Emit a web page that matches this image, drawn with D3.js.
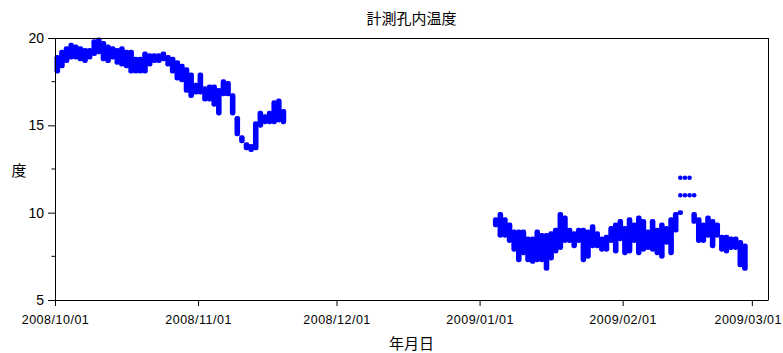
<!DOCTYPE html>
<html>
<head>
<meta charset="utf-8">
<script src="https://cdn.jsdelivr.net/npm/d3@7"></script>
<style>
  body { margin: 0; background: #fff; }
  text { fill: #000; }
</style>
</head>
<body>
<svg id="chart" width="783" height="353"></svg>
<script>
// Borehole temperature: daily low / high readings (°C)
const seriesAStart = "2008-10-01";
const seriesALow = [
  18.1, 18.4, 18.7, 18.9, 18.9, 18.8, 18.7, 18.9, 19.1, 19.2,
  18.8, 18.7, 18.9, 18.6, 18.5, 18.4, 18.1, 18.1, 18.1, 18.1,
  18.5, 18.7, 18.7, 18.8, 18.5, 18.1, 17.7, 17.6, 17.0, 16.7,
  16.9, 16.9, 16.5, 16.5, 16.2, 15.7, 16.8, 16.8, 15.7, 14.5,
  14.1, 13.7, 13.6, 13.7, 15.0, 15.2, 15.2, 15.2, 15.3, 15.2
];
const seriesAHigh = [
  18.9, 19.2, 19.4, 19.6, 19.5, 19.4, 19.3, 19.3, 19.8, 19.9,
  19.7, 19.5, 19.4, 19.3, 19.4, 19.2, 19.2, 18.8, 18.8, 19.1,
  19.0, 19.0, 19.0, 19.1, 18.9, 18.8, 18.6, 18.4, 18.2, 17.9,
  17.3, 17.9, 17.1, 17.2, 17.2, 17.0, 17.5, 17.4, 16.7, 15.4,
  14.3, 13.9, 13.8, 15.1, 15.7, 15.5, 15.7, 16.3, 16.4, 15.8
];

const seriesBStart = "2009-01-04";
const seriesBLow = [
  9.3, 8.7, 8.7, 8.4, 7.9, 7.3, 7.7, 7.3, 7.2, 7.3,
  7.3, 6.8, 7.4, 7.8, 8.0, 8.4, 8.4, 8.1, 8.4, 7.3,
  7.5, 8.1, 8.1, 7.9, 7.9, 8.4, 7.8, 8.5, 7.7, 7.8,
  8.4, 7.7, 7.9, 8.0, 7.9, 7.7, 7.5, 8.3, 7.7, 9.0,
  10.0, null, null, 9.5, 8.4, 8.4, 8.7, 8.1, 8.7, 7.9,
  7.8, 8.0, 8.0, 7.0, 6.8
];
const seriesBHigh = [
  9.6, 9.9, 9.6, 9.3, 8.9, 8.9, 8.9, 8.5, 8.5, 8.9,
  8.7, 8.7, 8.8, 9.0, 9.9, 9.7, 9.0, 8.8, 9.0, 9.0,
  8.9, 9.2, 8.8, 8.5, 8.6, 9.1, 9.3, 9.5, 9.1, 9.6,
  9.3, 9.7, 9.5, 8.9, 9.5, 9.0, 9.3, 9.1, 9.6, 9.9,
  10.0, null, null, 9.9, 9.6, 9.3, 9.7, 9.5, 9.3, 8.6,
  8.6, 8.5, 8.5, 8.3, 8.1
];

// Isolated readings in mid-February
const spikeDates  = ["2009-02-13", "2009-02-14", "2009-02-15",
                     "2009-02-13", "2009-02-14", "2009-02-15", "2009-02-16"];
const spikeValues = [12.0, 12.0, 12.0, 11.0, 11.0, 11.0, 11.0];

const xTickDates  = ["2008-10-01", "2008-11-01", "2008-12-01", "2009-01-01", "2009-02-01", "2009-03-01"];
const xTickLabels = ["2008/10/01", "2008/11/01", "2008/12/01", "2009/01/01", "2009/02/01", "2009/03/01"];
const yTicks = [5, 10, 15, 20];
const yMinorTicks = [7.5, 12.5, 17.5];

const W = 783, H = 353;
const margin = { top: 38, right: 15, bottom: 53, left: 55 };
const parse = d3.timeParse("%Y-%m-%d");
const blue = "#0000ff";

const svg = d3.select("#chart");

const x = d3.scaleTime()
  .domain([parse("2008-10-01"), d3.timeHour.offset(parse("2009-03-04"), 12)])
  .range([margin.left, W - margin.right]);
const y = d3.scaleLinear()
  .domain([5, 20])
  .range([H - margin.bottom, margin.top]);

// Build daily rows (each reading day centred at noon)
function dailyRows(start, lows, highs) {
  const s = parse(start);
  return lows.map((lo, i) => ({
    date: d3.timeHour.offset(d3.timeDay.offset(s, i), 12),
    low: lo,
    high: highs[i]
  })).filter(d => d.low != null && d.high != null);
}
const rows = dailyRows(seriesAStart, seriesALow, seriesAHigh)
  .concat(dailyRows(seriesBStart, seriesBLow, seriesBHigh));

const r = 2.3;     // marker radius
const hw = 2.8;    // half width of a daily range bar
const marks = svg.append("g");
marks.selectAll("rect.day")
  .data(rows)
  .join("rect")
  .attr("class", "day")
  .attr("x", d => x(d.date) - hw)
  .attr("y", d => y(d.high) - r)
  .attr("width", 2 * hw)
  .attr("height", d => y(d.low) - y(d.high) + 2 * r)
  .attr("rx", r)
  .attr("fill", blue);

marks.selectAll("circle.spike")
  .data(spikeDates.map((s, i) => ({ date: d3.timeHour.offset(parse(s), 12), v: spikeValues[i] })))
  .join("circle")
  .attr("class", "spike")
  .attr("cx", d => x(d.date))
  .attr("cy", d => y(d.v))
  .attr("r", r)
  .attr("fill", blue);

// Frame
const frame = svg.append("g").attr("stroke", "#000").attr("stroke-width", 1).attr("shape-rendering", "crispEdges");
frame.append("line").attr("x1", margin.left).attr("x2", W - margin.right).attr("y1", margin.top + 0.5).attr("y2", margin.top + 0.5);
frame.append("line").attr("x1", W - margin.right + 0.5).attr("x2", W - margin.right + 0.5).attr("y1", margin.top).attr("y2", H - margin.bottom);

// X axis
const xAxis = d3.axisBottom(x)
  .tickValues(xTickDates.map(parse))
  .tickFormat((d, i) => xTickLabels[i])
  .tickSize(6)
  .tickSizeOuter(0)
  .tickPadding(9);
const gx = svg.append("g")
  .attr("transform", `translate(0,${H - margin.bottom})`)
  .call(xAxis);
gx.selectAll("text")
  .attr("font-family", "Liberation Sans, Arial, sans-serif")
  .attr("font-size", 12.5)
  .attr("letter-spacing", "0.5px");
// keep the last date label inside the page
gx.selectAll(".tick text").each(function () {
  const tx = d3.select(this.parentNode).attr("transform");
  const px = +/translate\(([-\d.]+)/.exec(tx)[1];
  const w = this.getComputedTextLength();
  const overflow = px + w / 2 - (W - 1);
  if (overflow > 0) d3.select(this).attr("x", -overflow);
});

// Y axis
const yAxis = d3.axisLeft(y)
  .tickValues(yTicks)
  .tickSize(7)
  .tickSizeOuter(0)
  .tickPadding(4);
const gy = svg.append("g")
  .attr("transform", `translate(${margin.left},0)`)
  .call(yAxis);
gy.selectAll("text")
  .attr("font-family", "Liberation Sans, Arial, sans-serif")
  .attr("font-size", 14);
gy.selectAll(".minor")
  .data(yMinorTicks)
  .join("line")
  .attr("class", "minor")
  .attr("x1", -3.5).attr("x2", 0)
  .attr("y1", d => y(d)).attr("y2", d => y(d))
  .attr("stroke", "#000");

svg.selectAll(".domain").attr("stroke", "#000");
svg.selectAll(".tick line").attr("stroke", "#000");

// Titles
const cjk = "'Noto Sans CJK JP', sans-serif";
svg.append("text")
  .attr("x", (margin.left + W - margin.right) / 2)
  .attr("y", 24)
  .attr("text-anchor", "middle")
  .attr("font-family", cjk)
  .attr("font-size", 15)
  .text("計測孔内温度");
svg.append("text")
  .attr("x", (margin.left + W - margin.right) / 2)
  .attr("y", 349)
  .attr("text-anchor", "middle")
  .attr("font-family", cjk)
  .attr("font-size", 15)
  .text("年月日");
svg.append("text")
  .attr("x", 19)
  .attr("y", 176)
  .attr("text-anchor", "middle")
  .attr("font-family", cjk)
  .attr("font-size", 15)
  .text("度");
</script>
</body>
</html>
